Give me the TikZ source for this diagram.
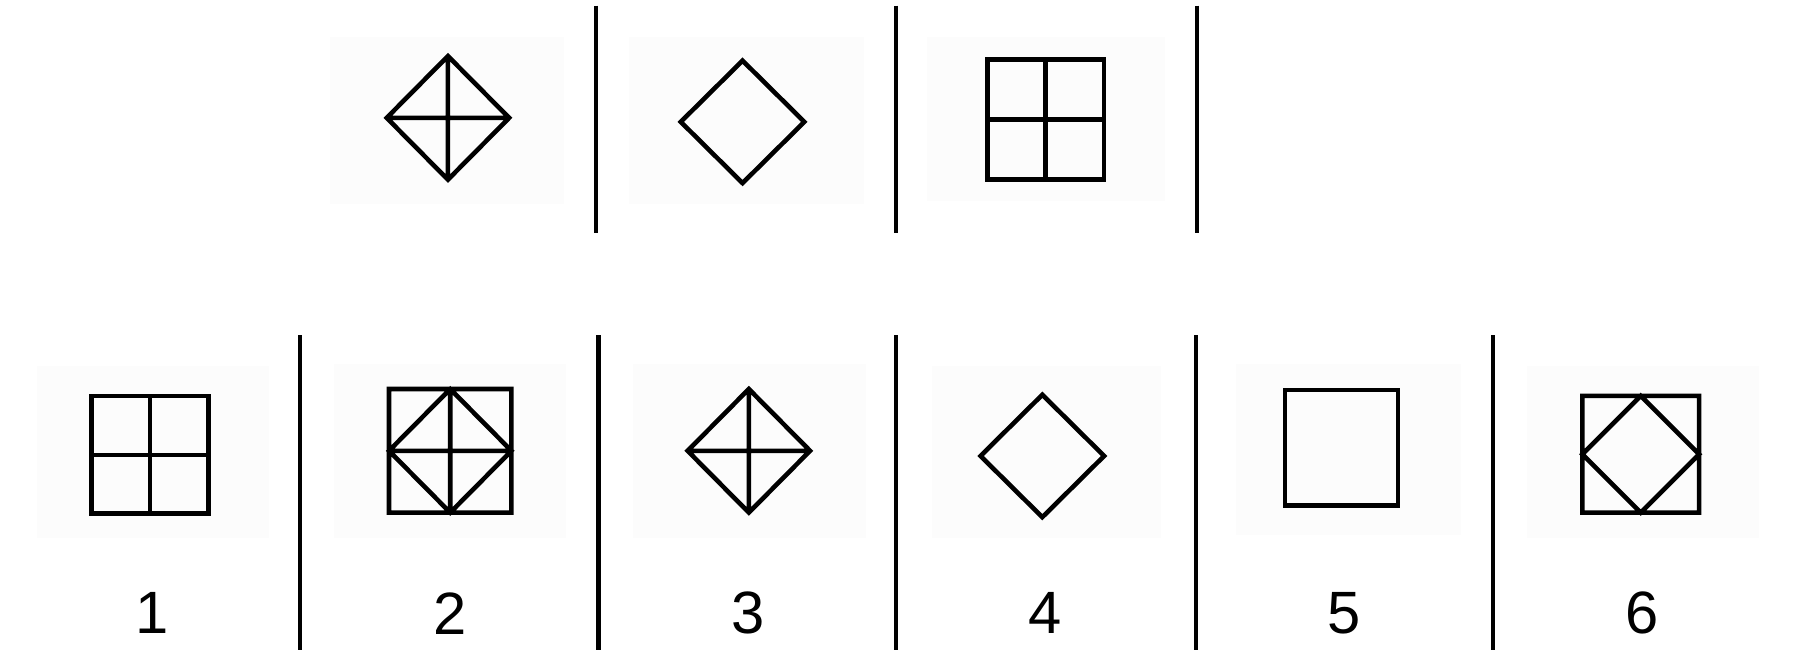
\documentclass[tikz,border=0pt]{standalone}
\usepackage{fontspec}
\setmainfont{Liberation Sans}
\usepackage{tikz}
\usetikzlibrary{positioning}

\begin{document}
\begin{tikzpicture}[
  x=0.011441cm, y=-0.011441cm,
  every node/.style={font=\fontsize{17}{20}\selectfont},
  fig/.style={line width=1.3pt, draw=black, line join=miter},
  sepline/.style={line width=1.2pt, draw=black},
  panel/.style={fill=black!1, draw=none},
  numlbl/.style={inner sep=0pt, anchor=center},
]
\useasboundingbox (0,0) rectangle (1568,573);

% Faint panels behind the figures
\foreach \xa/\ya/\xb/\yb in {288/32/493/178, 550/32/755/178, 810/32/1018/176,
  32/320/235/470, 292/318/495/470, 553/318/757/470, 815/320/1015/470,
  1080/318/1277/468, 1335/320/1537/470}
  \fill[panel] (\xa,\ya) rectangle (\xb,\yb);

% Row 1: separators
\foreach \xs in {521,783,1046}
  \draw[sepline] (\xs,5) -- (\xs,204);

% Row 1: figures
\draw[fig] (338,103) -- (391.5,49) -- (445,103) -- (391.5,157) -- cycle
           (338,103) -- (445,103) (391.5,49) -- (391.5,157);
\draw[fig] (595,106.5) -- (649,53) -- (703,106.5) -- (649,160) -- cycle;
\draw[fig] (863,52) rectangle (965,157)
           (863,104.5) -- (965,104.5) (914,52) -- (914,157);

% Row 2: separators
\foreach \xs in {262,523,783,1045,1305}
  \draw[sepline] (\xs,293) -- (\xs,568);

% Row 2: figures
\draw[fig] (80,346) rectangle (182,449)
           (80,397.5) -- (182,397.5) (131,346) -- (131,449);
\draw[fig] (340,340) rectangle (447,448)
           (340,394) -- (393.5,340) -- (447,394) -- (393.5,448) -- cycle
           (340,394) -- (447,394) (393.5,340) -- (393.5,448);
\draw[fig] (601,394) -- (654.5,340) -- (708,394) -- (654.5,448) -- cycle
           (601,394) -- (708,394) (654.5,340) -- (654.5,448);
\draw[fig] (857,398.5) -- (911,345) -- (965,398.5) -- (911,452) -- cycle;
\draw[fig] (1123,341) rectangle (1222,442);
\draw[fig] (1383,346) rectangle (1485,448)
           (1383,397) -- (1434,346) -- (1485,397) -- (1434,448) -- cycle;

% Row 2: numbers
\node[numlbl] (n1) at (133,536) {1};
\node[numlbl] (n2) at (393,536) {2};
\node[numlbl] (n3) at (654,536) {3};
\node[numlbl] (n4) at (913,536) {4};
\node[numlbl] (n5) at (1175,536) {5};
\node[numlbl] (n6) at (1435,536) {6};

\end{tikzpicture}
\end{document}
